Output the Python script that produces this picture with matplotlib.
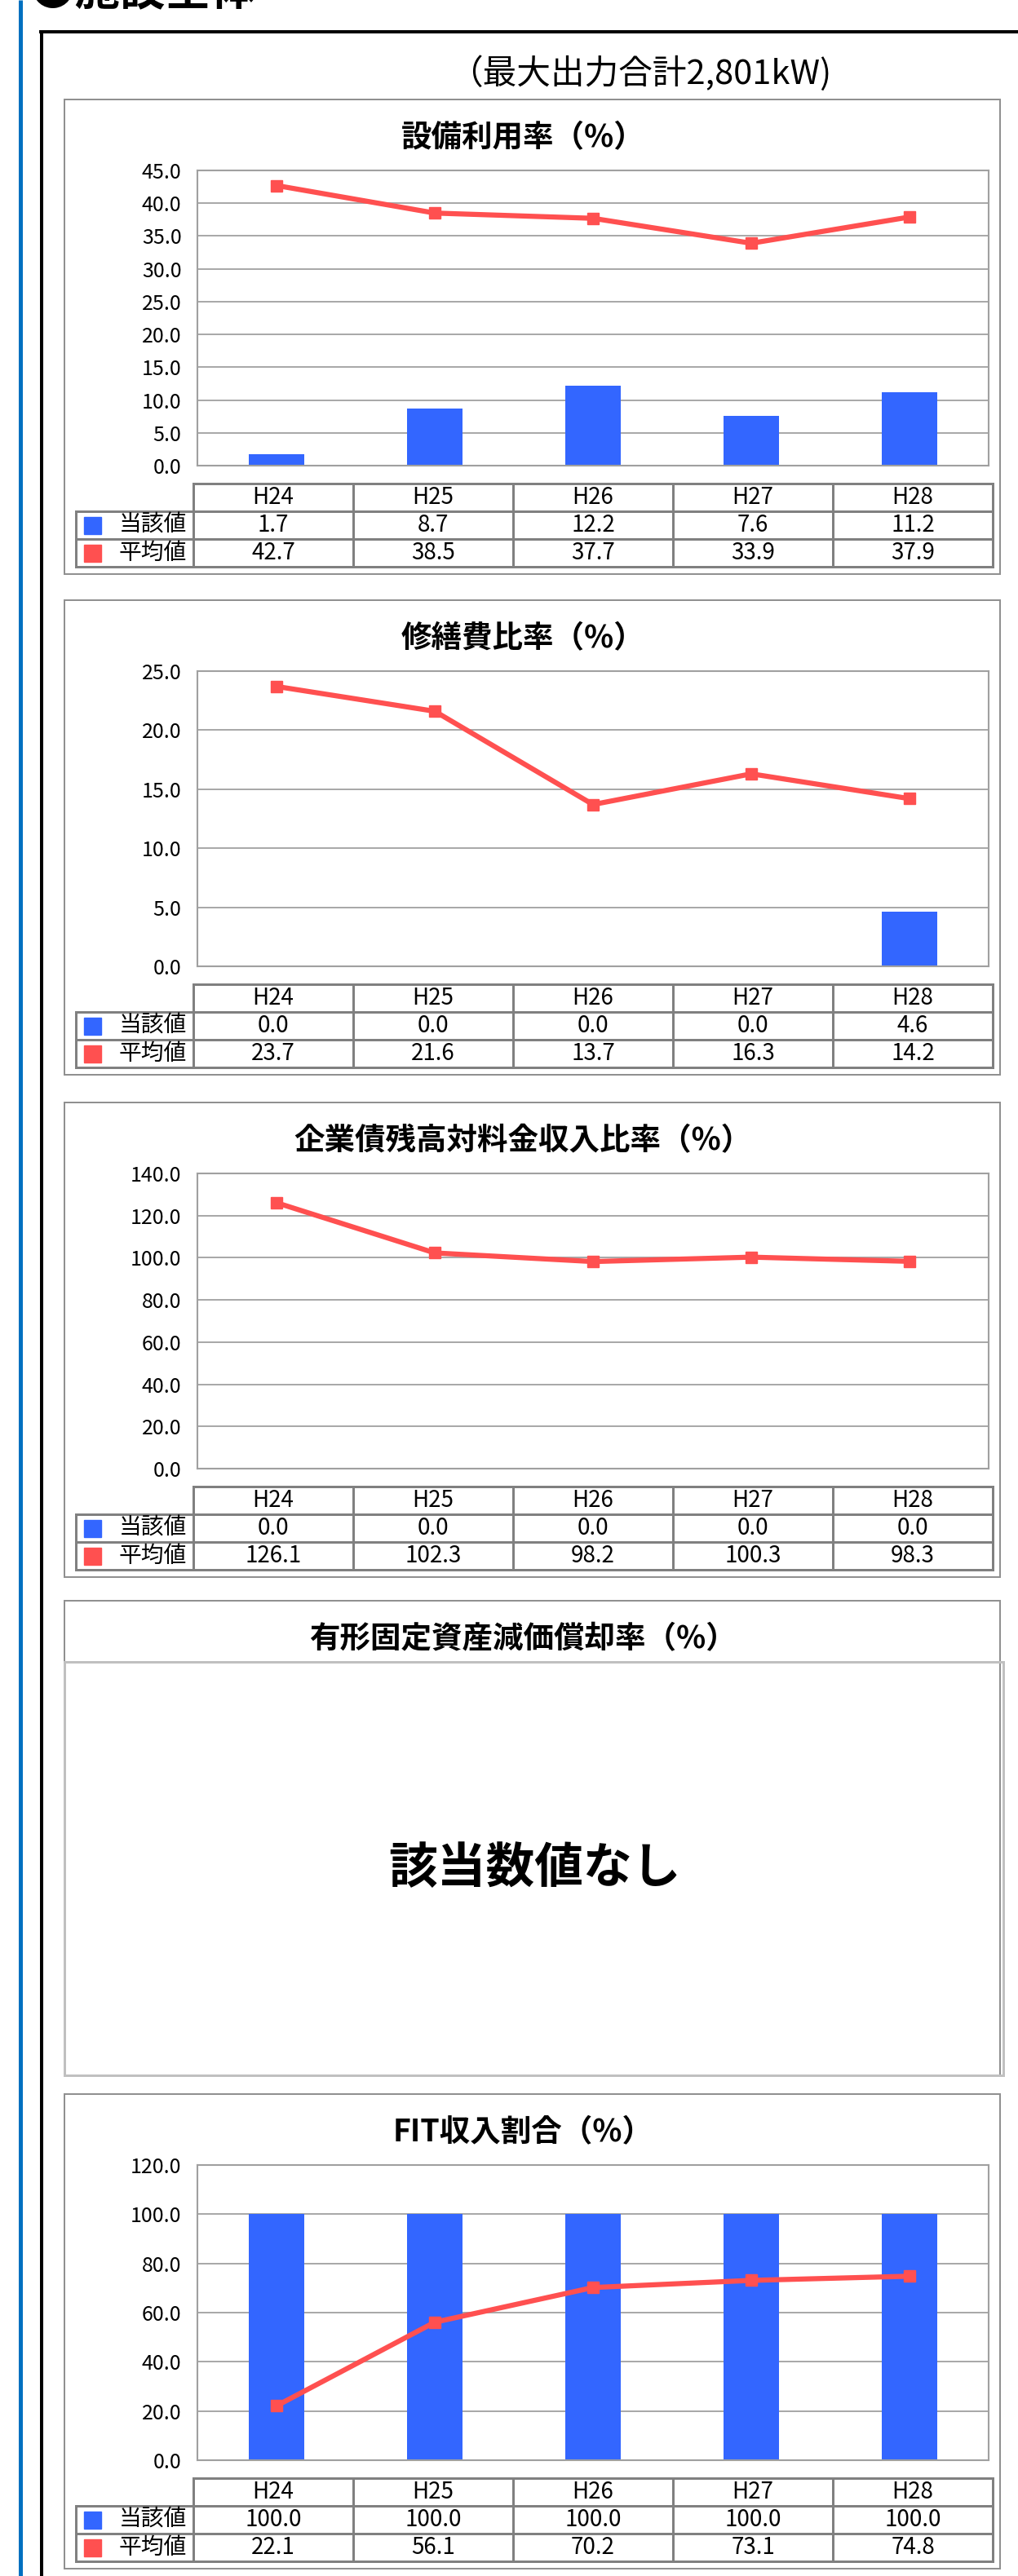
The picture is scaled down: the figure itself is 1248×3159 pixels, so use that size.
import numpy as np
import matplotlib
matplotlib.use('Agg')
import matplotlib.pyplot as plt
from matplotlib.patches import Rectangle

plt.rcParams['font.family'] = ['Noto Sans CJK JP', 'DejaVu Sans']

# data
years = ['H24', 'H25', 'H26', 'H27', 'H28']
row_labels = ['当該値', '平均値']

util_cur = [1.7, 8.7, 12.2, 7.6, 11.2]
util_avg = [42.7, 38.5, 37.7, 33.9, 37.9]
repair_cur = [0.0, 0.0, 0.0, 0.0, 4.6]
repair_avg = [23.7, 21.6, 13.7, 16.3, 14.2]
debt_cur = [0.0, 0.0, 0.0, 0.0, 0.0]
debt_avg = [126.1, 102.3, 98.2, 100.3, 98.3]
fit_cur = [100.0, 100.0, 100.0, 100.0, 100.0]
fit_avg = [22.1, 56.1, 70.2, 73.1, 74.8]

titles = ['設備利用率（%）', '修繕費比率（%）', '企業債残高対料金収入比率（%）',
          '有形固定資産減価償却率（%）', 'FIT収入割合（%）']

W, H = 1248, 3159
BLUE = '#3366FF'
RED = '#FF5050'
GRID = '#A0A0A0'
TBL = '#808080'


def box(x0, y0, x1, y1):
    # pixel box (top-left origin) -> figure fraction rect
    return [x0 / W, 1 - y1 / H, (x1 - x0) / W, (y1 - y0) / H]


def pt(px):
    return px * 72 / 100


fig = plt.figure(figsize=(W / 100, H / 100), dpi=100)
bg = fig.add_axes([0, 0, 1, 1])
bg.set_xlim(0, W)
bg.set_ylim(H, 0)
bg.axis('off')

# page frame (heading is cut by the top edge, as in the source page)
bg.plot([24.5, 24.5], [0, H], color='#0070C0', lw=pt(5), solid_capstyle='butt')
bg.plot([50.5, 50.5], [37, H], color='black', lw=pt(4), solid_capstyle='butt')
bg.plot([48, W], [39, 39], color='black', lw=pt(4), solid_capstyle='butt')
bg.text(36, 6, '●施設全体', fontsize=40, fontweight='bold', va='baseline', ha='left')
bg.text(785, 90, '（最大出力合計2,801kW)', fontsize=30, va='center', ha='center')

tops = [122, 736, 1352, 1963, 2568]
for t in tops:
    bg.add_patch(Rectangle((79, t), 1147, 582, fill=False, ec='#909090', lw=pt(2)))

for t, title in zip(tops, titles):
    bg.text(641, t + 47, title, fontsize=27, fontweight='bold', ha='center', va='center')

# no-data panel
bg.add_patch(Rectangle((79, 2038), 1151, 507, fill=False, ec='#C0C0C0', lw=pt(3)))
bg.text(655, 2292, '該当数値なし', fontsize=43, fontweight='bold', ha='center', va='center')

charts = [
    (tops[0], util_cur, util_avg, 45, 5),
    (tops[1], repair_cur, repair_avg, 25, 5),
    (tops[2], debt_cur, debt_avg, 140, 20),
    (tops[4], fit_cur, fit_avg, 120, 20),
]

x = np.arange(len(years))
col_edges = [237 + 196 * i for i in range(6)]

for t, cur, avg, ymax, step in charts:
    ax = fig.add_axes(box(242, t + 87, 1212, t + 449))
    ax.bar(x, cur, width=0.35, color=BLUE, zorder=2)
    ax.plot(x, avg, color=RED, lw=4.5, marker='s', ms=10.5, zorder=3)
    ax.set_xlim(-0.5, 4.5)
    ax.set_ylim(0, ymax)
    ticks = np.arange(0, ymax + step / 2, step)
    ax.set_yticks(ticks)
    ax.set_yticklabels(['%.1f' % v for v in ticks])
    ax.set_xticks([])
    ax.tick_params(axis='y', length=0, pad=14, labelsize=18)
    ax.yaxis.grid(True, color=GRID, lw=1.3)
    ax.set_axisbelow(True)
    for s in ax.spines.values():
        s.set_color(GRID)
        s.set_linewidth(1.5)

    # data table under the chart
    r = [t + 471, t + 505, t + 539, t + 573]
    lw = pt(3)
    bg.plot([237, 1217], [r[0], r[0]], color=TBL, lw=lw)
    for yy in r[1:]:
        bg.plot([93, 1217], [yy, yy], color=TBL, lw=lw)
    bg.plot([93, 93], [r[1], r[3]], color=TBL, lw=lw)
    for xe in col_edges:
        bg.plot([xe, xe], [r[0], r[3]], color=TBL, lw=lw)
    for i, yr in enumerate(years):
        cx = (col_edges[i] + col_edges[i + 1]) / 2
        bg.text(cx, (r[0] + r[1]) / 2, yr, fontsize=20, ha='center', va='center')
        bg.text(cx, (r[1] + r[2]) / 2, '%.1f' % cur[i], fontsize=20, ha='center', va='center')
        bg.text(cx, (r[2] + r[3]) / 2, '%.1f' % avg[i], fontsize=20, ha='center', va='center')
    for k, (lab, c) in enumerate(zip(row_labels, [BLUE, RED])):
        cy = (r[1 + k] + r[2 + k]) / 2
        bg.add_patch(Rectangle((103, cy - 10.5), 21, 21, color=c))
        bg.text(187, cy, lab, fontsize=20, ha='center', va='center')

fig.savefig('out.png', dpi=100)
